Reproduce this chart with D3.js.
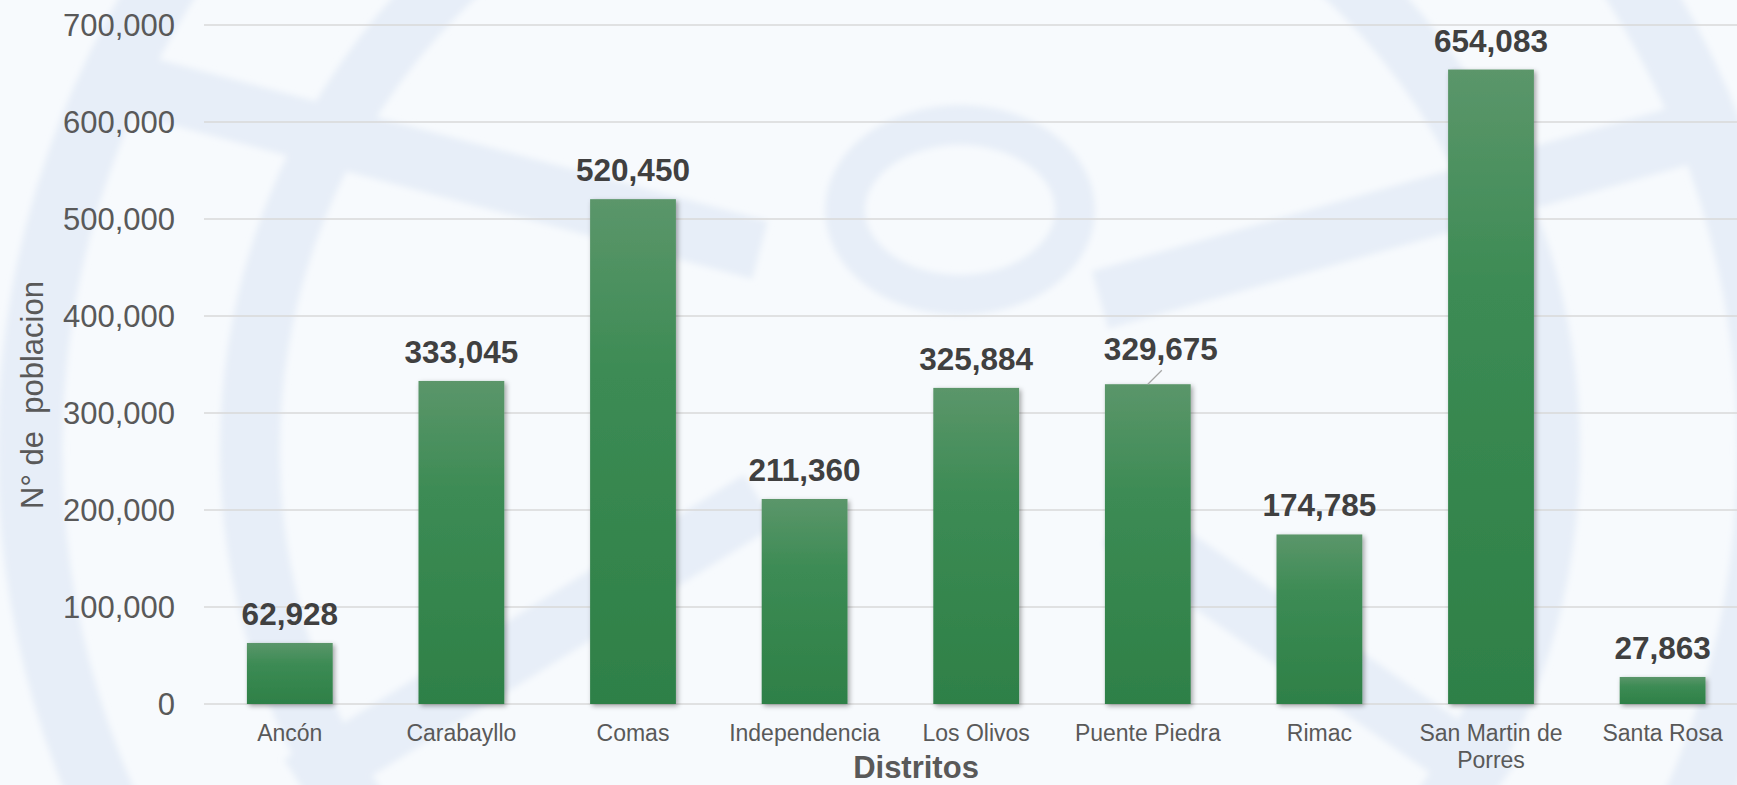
<!DOCTYPE html>
<html>
<head>
<meta charset="utf-8">
<script src="https://cdn.jsdelivr.net/npm/d3@7"></script>
<style>
  html, body { margin: 0; padding: 0; background: #f7fafd; }
  svg text { font-family: "Liberation Sans", Arial, sans-serif; }
</style>
</head>
<body>
<script>
// data
let districts = ["Ancón", "Carabayllo", "Comas", "Independencia", "Los Olivos",
    "Puente Piedra", "Rimac", "San Martin de Porres", "Santa Rosa"];
let population = [62928, 333045, 520450, 211360, 325884, 329675, 174785, 654083, 27863];
let y_ticks = [0, 100000, 200000, 300000, 400000, 500000, 600000, 700000];
let x_title = "Distritos";
let y_title = "N° de  poblacion";

let svg_width = 1737;
let svg_height = 785;

let svg = d3.select("body")
    .append("svg")
    .attr("width", svg_width)
    .attr("height", svg_height);

let defs = svg.append("defs");
let grad = defs.append("linearGradient")
    .attr("id", "bar_grad")
    .attr("x1", 0).attr("y1", 0).attr("x2", 0).attr("y2", 1);
grad.append("stop").attr("offset", "0%").attr("stop-color", "#5b966a");
grad.append("stop").attr("offset", "35%").attr("stop-color", "#3c8b54");
grad.append("stop").attr("offset", "100%").attr("stop-color", "#2e8047");

let shadow = defs.append("filter")
    .attr("id", "bar_shadow")
    .attr("x", "-20%").attr("y", "-10%").attr("width", "150%").attr("height", "130%");
shadow.append("feDropShadow")
    .attr("dx", 2).attr("dy", 2)
    .attr("stdDeviation", 2.5)
    .attr("flood-color", "#000")
    .attr("flood-opacity", 0.35);

let soft = defs.append("filter").attr("id", "soft");
soft.append("feGaussianBlur").attr("stdDeviation", 3);

// faint watermark in the back
let wm = svg.append("g")
    .attr("fill", "none")
    .attr("stroke", "#e7eef8")
    .attr("filter", "url(#soft)");
wm.append("circle").attr("cx", 900).attr("cy", 450).attr("r", 870).attr("stroke-width", 65);
wm.append("circle").attr("cx", 900).attr("cy", 450).attr("r", 650).attr("stroke-width", 60);
wm.append("ellipse").attr("cx", 960).attr("cy", 210).attr("rx", 115).attr("ry", 85).attr("stroke-width", 40);
wm.append("path").attr("d", "M 100 75 L 760 250").attr("stroke-width", 60);
wm.append("path").attr("d", "M 1100 300 L 1737 120").attr("stroke-width", 60);
wm.append("path").attr("d", "M 300 785 L 760 500").attr("stroke-width", 60);
wm.append("path").attr("d", "M 1120 520 L 1500 785").attr("stroke-width", 60);

let x_scale = d3.scaleBand()
    .domain(districts)
    .range([204, 1748.4])
    .paddingInner(0.5)
    .paddingOuter(0.25);

let y_scale = d3.scaleLinear()
    .domain([0, 700000])
    .range([704, 25]);

let fmt = d3.format(",");

// gridlines + tick labels
let grid = svg.append("g");
grid.selectAll("line")
    .data(y_ticks)
    .join("line")
    .attr("x1", 204)
    .attr("x2", svg_width)
    .attr("y1", d => y_scale(d))
    .attr("y2", d => y_scale(d))
    .attr("stroke", "#d9d9d9")
    .attr("stroke-width", 1.5);
grid.selectAll("text")
    .data(y_ticks)
    .join("text")
    .attr("x", 175)
    .attr("y", d => y_scale(d) + 11)
    .attr("text-anchor", "end")
    .style("font-size", "31px")
    .attr("fill", "#595959")
    .text(d => fmt(d));

// bars
svg.append("g")
    .selectAll("rect")
    .data(population)
    .join("rect")
    .attr("x", (d, i) => x_scale(districts[i]))
    .attr("y", d => y_scale(d))
    .attr("width", x_scale.bandwidth())
    .attr("height", d => y_scale(0) - y_scale(d))
    .attr("fill", "url(#bar_grad)")
    .attr("filter", "url(#bar_shadow)");

// data labels (Puente Piedra one is pulled aside with a leader line)
let label_shift = districts.map(d => d == "Puente Piedra" ? { dx: 13, dy: -6 } : { dx: 0, dy: 0 });
let lbl = svg.append("g");
lbl.selectAll("text")
    .data(population)
    .join("text")
    .attr("x", (d, i) => x_scale(districts[i]) + x_scale.bandwidth() / 2 + label_shift[i].dx)
    .attr("y", (d, i) => y_scale(d) - 18 + label_shift[i].dy)
    .attr("text-anchor", "middle")
    .style("font-size", "31.5px")
    .style("font-weight", "bold")
    .attr("fill", "#404040")
    .text(d => fmt(d));
population.forEach(function (d, i) {
    if (label_shift[i].dx != 0) {
        let cx = x_scale(districts[i]) + x_scale.bandwidth() / 2;
        lbl.append("line")
            .attr("x1", cx)
            .attr("y1", y_scale(d))
            .attr("x2", cx + label_shift[i].dx + 1)
            .attr("y2", y_scale(d) - 14)
            .attr("stroke", "#a6a6a6")
            .attr("stroke-width", 1.2);
    }
});

// category labels, wrapped like the original
let cat_lines = {
    "San Martin de Porres": ["San Martin de", "Porres"]
};
let cat = svg.append("g");
districts.forEach(function (d) {
    let lines = cat_lines[d] || [d];
    let t = cat.append("text")
        .attr("text-anchor", "middle")
        .style("font-size", "23px")
        .attr("fill", "#595959");
    lines.forEach(function (s, j) {
        t.append("tspan")
            .attr("x", x_scale(d) + x_scale.bandwidth() / 2)
            .attr("y", 741 + j * 27)
            .text(s);
    });
});

// axis titles
svg.append("text")
    .attr("x", 916)
    .attr("y", 778)
    .attr("text-anchor", "middle")
    .style("font-size", "31px")
    .style("font-weight", "bold")
    .attr("fill", "#595959")
    .text(x_title);

svg.append("text")
    .attr("transform", "translate(43,395) rotate(-90)")
    .attr("text-anchor", "middle")
    .style("font-size", "31px")
    .style("white-space", "pre")
    .attr("fill", "#595959")
    .text(y_title);
</script>
</body>
</html>
